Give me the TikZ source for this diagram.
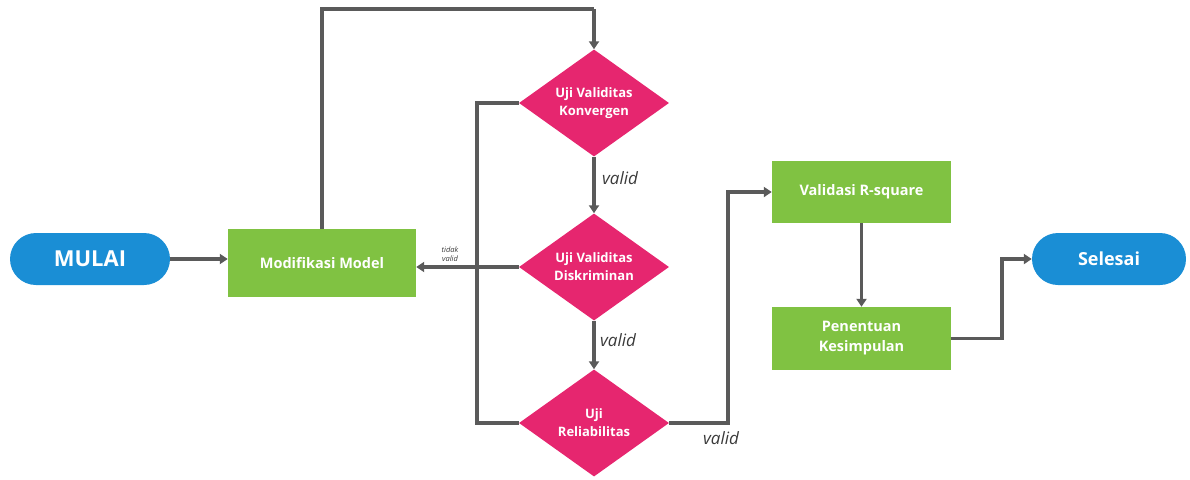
\documentclass[tikz,border=0pt]{standalone}
\usepackage{fontspec}
\setmainfont{Open Sans}
\usetikzlibrary{arrows.meta,shapes.geometric,calc}
\definecolor{cblue}{HTML}{1A8ED5}
\definecolor{cgreen}{HTML}{80C242}
\definecolor{cpink}{HTML}{E6266F}
\definecolor{cline}{HTML}{5A5A5A}
\definecolor{ctext}{HTML}{3A3A3A}
\tikzset{
  term/.style={rectangle, rounded corners=26pt, fill=cblue, text=white, font=\bfseries, inner sep=0pt},
  procbox/.style={rectangle, fill=cgreen, text=white, font=\bfseries\fontsize{14.5}{20}\selectfont, align=center, inner sep=0pt, minimum width=180pt},
  decbox/.style={diamond, aspect=1.4, fill=cpink, text=white, font=\bfseries\fontsize{13}{18}\selectfont, align=center, inner sep=0pt, minimum width=150pt, minimum height=107pt},
  conn/.style={draw=cline, line width=3.2pt},
  arr/.style={conn, -{Triangle[length=8pt,width=10pt]}},
  lbl/.style={text=ctext, font=\itshape\fontsize{17}{20}\selectfont, inner sep=0pt},
  smalllbl/.style={text=ctext, font=\itshape\fontsize{7.5}{8.5}\selectfont, align=center, inner sep=0pt}
}
\begin{document}
\begin{tikzpicture}[x=1pt,y=-1pt]
\useasboundingbox (0,0) rectangle (1190,479);
% nodes
\node[term, minimum width=160pt, minimum height=52pt, font=\bfseries\fontsize{22}{26}\selectfont] (mulai) at (90,259) {MULAI};
\node[procbox, minimum width=188pt, minimum height=68pt] (modif) at (322,263) {Modifikasi Model};
\node[decbox] (konv) at (594,103) {Uji Validitas\\Konvergen};
\node[decbox] (disk) at (594,267) {Uji Validitas\\Diskriminan};
\node[decbox] (rel) at (594,423) {Uji\\Reliabilitas};
\node[procbox, minimum width=179pt, minimum height=62pt] (vrs) at (861.5,192) {Validasi R-square};
\node[procbox, minimum width=179pt, minimum height=63pt] (pen) at (861.5,338.5) {Penentuan\\Kesimpulan};
\node[term, minimum width=154pt, minimum height=52pt, font=\bfseries\fontsize{18}{22}\selectfont] (sel) at (1109,259) {Selesai};
% labels
\node[lbl] (v1) at (620,178) {valid};
\node[lbl] (v2) at (618,340) {valid};
\node[lbl] (v3) at (721,438) {valid};
\node[smalllbl] (tv) at (450,254) {tidak\\valid};
% coordinates
\coordinate (topc) at (594,9);
\coordinate (fbx) at (477,263);
\coordinate (vx) at (728,300);
\coordinate (sx) at (1002,300);
% connectors
\draw[arr] (mulai.east) -- (mulai.east -| modif.west);
\draw[conn] (modif.north) |- (topc);
\draw[arr] (topc) -- (konv.north);
\draw[conn] (konv.west) -| (fbx) |- (rel.west);
\draw[arr] (disk.west) -- (disk.west -| modif.east);
\draw[arr] (konv.south) -- (disk.north);
\draw[arr] (disk.south) -- (rel.north);
\draw[arr] (rel.east) -| (vx) |- (vrs.west);
\draw[arr] (vrs.south) -- (pen.north);
\draw[arr] (pen.east) -| (sx) |- (sel.west);
\end{tikzpicture}
\end{document}
